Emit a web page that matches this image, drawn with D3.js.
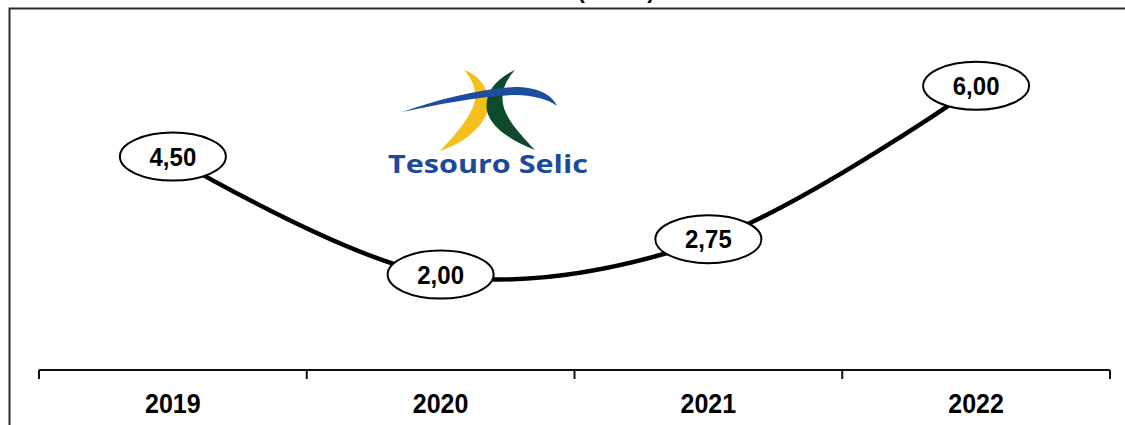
<!DOCTYPE html>
<html>
<head>
<meta charset="utf-8">
<script src="https://cdn.jsdelivr.net/npm/d3@7"></script>
<style>
  body { margin: 0; background: #fff; }
  svg { display: block; font-family: "Liberation Sans", Arial, sans-serif; }
</style>
</head>
<body>
<div id="graph"></div>
<script>
// chart data
const years = ["2019", "2020", "2021", "2022"];
const selic = [4.5, 2.0, 2.75, 6.0];
const valueLabels = ["4,50", "2,00", "2,75", "6,00"];
const titleText = "(% a.a.)";

const width = 1125, height = 425;

let svg = d3.select("#graph").append("svg")
  .attr("width", width)
  .attr("height", height);

// outer frame, runs off the right and bottom edges
svg.append("rect")
  .attr("x", 9.5).attr("y", 8.5)
  .attr("width", 1140).attr("height", 440)
  .attr("fill", "none")
  .attr("stroke", "#2b2b2b")
  .attr("stroke-width", 2);

// title, mostly cut off at the top (only the paren tails show)
svg.append("text")
  .attr("x", 616).attr("y", -2.5)
  .attr("text-anchor", "middle")
  .style("font-size", "22px")
  .style("font-weight", "bold")
  .text(titleText);

// scales
let x = d3.scaleBand().domain(years).range([39, 1110]).paddingInner(0).paddingOuter(0);
let y = d3.scaleLinear().domain([0, 7]).range([370, 39.6]);

// x axis line + boundary ticks
let axis = svg.append("g").attr("id", "xAxis");
axis.append("line")
  .attr("x1", x.range()[0]).attr("x2", x.range()[1])
  .attr("y1", 370).attr("y2", 370)
  .attr("stroke", "#111").attr("stroke-width", 2);

let bounds = years.map(d => x(d)).concat([x(years[years.length - 1]) + x.bandwidth()]);
axis.selectAll("line.tick")
  .data(bounds)
  .enter()
  .append("line")
  .attr("class", "tick")
  .attr("x1", d => d).attr("x2", d => d)
  .attr("y1", 370).attr("y2", 379)
  .attr("stroke", "#111").attr("stroke-width", 2);

axis.selectAll("text")
  .data(years)
  .enter()
  .append("text")
  .attr("transform", d => "translate(" + (x(d) + x.bandwidth() / 2) + ",413) scale(1,1.1)")
  .attr("text-anchor", "middle")
  .style("font-size", "25px")
  .style("font-weight", "bold")
  .text(d => d);

// logo (Tesouro Selic)
let logo = svg.append("g").attr("id", "logo");
logo.append("path") // yellow crescent
  .attr("d", "M464,70 C482,76 493,94 487,113 C479,132 460,144 440,151 C453,137 466,123 473,107 C478,94 474,81 464,70 Z")
  .attr("fill", "#f5bf1c");
logo.append("path") // green crescent
  .attr("d", "M515,70 C495,79 484,94 487,111 C491,128 512,141 535,150 C522,136 509,123 504,108 C500,94 504,82 515,70 Z")
  .attr("fill", "#0e4a2b");
logo.append("path") // blue swoosh
  .attr("d", "M402,112 C440,99 480,89 515,87 C536,87 552,94 557,106 C548,99 532,95 515,95 C480,96 440,104 402,112 Z")
  .attr("fill", "#1d4d9e");
logo.append("text")
  .attr("x", 388).attr("y", 173)
  .attr("textLength", 200)
  .attr("lengthAdjust", "spacingAndGlyphs")
  .style("font-family", "'Open Sans', 'Liberation Sans', sans-serif")
  .style("font-size", "25px")
  .style("font-weight", "bold")
  .attr("fill", "#1c4a98")
  .text("Tesouro Selic");

// smoothed line
let points = years.map((d, i) => [x(d) + x.bandwidth() / 2, y(selic[i])]);
svg.append("path")
  .datum(points)
  .attr("fill", "none")
  .attr("stroke", "#000")
  .attr("stroke-width", 4.5)
  .attr("d", d3.line().curve(d3.curveCatmullRom.alpha(0.5)));

// value bubbles
let bubbles = svg.selectAll("g.bubble")
  .data(points)
  .enter()
  .append("g")
  .attr("class", "bubble")
  .attr("transform", d => "translate(" + d[0] + "," + (d[1] - 1) + ")");

bubbles.append("ellipse")
  .attr("rx", 53).attr("ry", 24)
  .attr("fill", "#fff")
  .attr("stroke", "#000")
  .attr("stroke-width", 2);

bubbles.append("text")
  .attr("transform", "translate(0,9) scale(1,1.08)")
  .attr("text-anchor", "middle")
  .style("font-size", "24px")
  .style("font-weight", "bold")
  .text((d, i) => valueLabels[i]);
</script>
</body>
</html>
